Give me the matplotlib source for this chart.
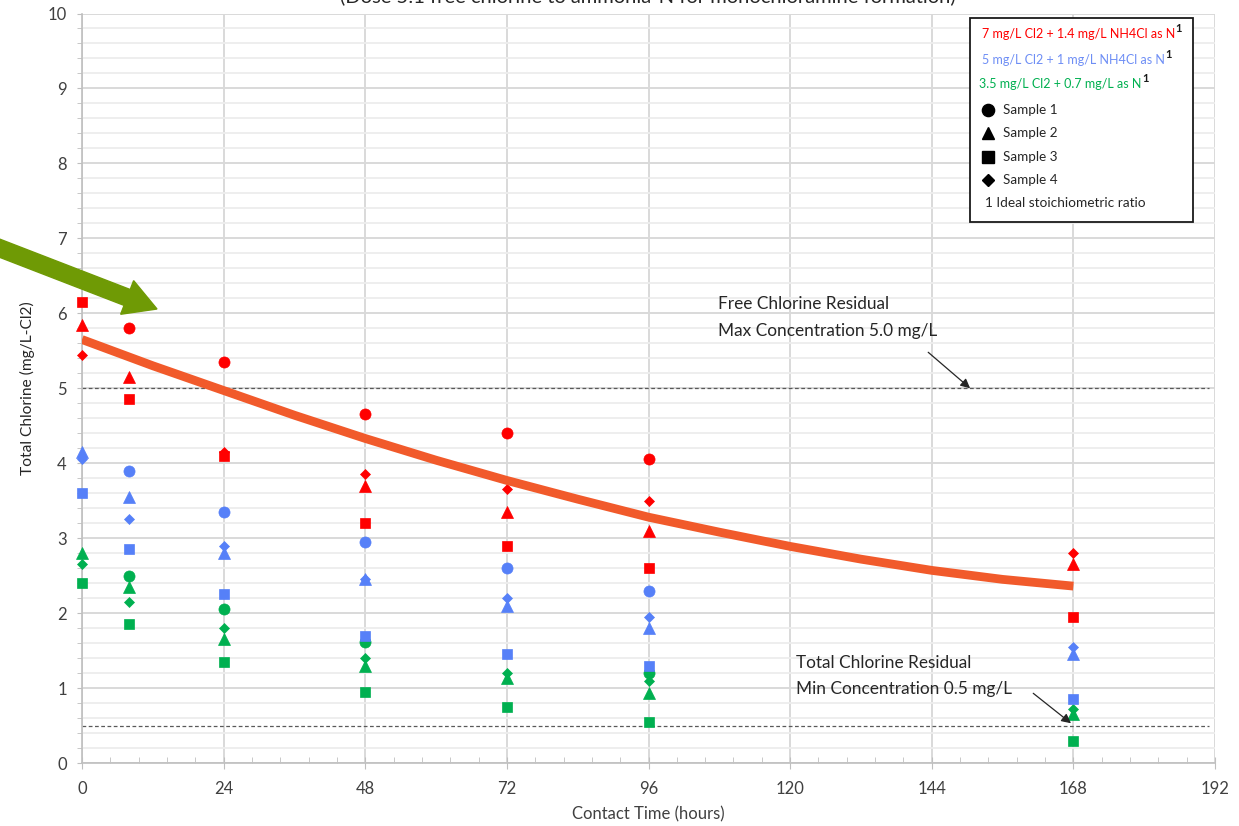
import numpy as np
import matplotlib
matplotlib.use("Agg")
import matplotlib.pyplot as plt
from matplotlib.ticker import MultipleLocator
import matplotlib.patches as mpatches
import matplotlib.transforms as mtransforms

nan = np.nan
W, H = 1239, 826

# ---------------- data ----------------
times = [0, 8, 24, 48, 72, 96, 168]

red_s1 = [nan, 5.80, 5.35, 4.65, 4.40, 4.05, nan]
red_s2 = [5.85, 5.15, nan, 3.70, 3.35, 3.10, 2.65]
red_s3 = [6.15, 4.85, 4.10, 3.20, 2.90, 2.60, 1.95]
red_s4 = [5.45, nan, 4.15, 3.85, 3.65, 3.50, 2.80]

blue_s1 = [nan, 3.90, 3.35, 2.95, 2.60, 2.30, nan]
blue_s2 = [4.15, 3.55, 2.80, 2.45, 2.10, 1.80, 1.45]
blue_s3 = [3.60, 2.85, 2.25, 1.70, 1.45, 1.30, 0.85]
blue_s4 = [4.05, 3.25, 2.90, 2.45, 2.20, 1.95, 1.55]

green_s1 = [nan, 2.50, 2.05, 1.62, nan, 1.20, nan]
green_s2 = [2.80, 2.35, 1.65, 1.30, 1.13, 0.93, 0.65]
green_s3 = [2.40, 1.85, 1.35, 0.95, 0.75, 0.55, 0.30]
green_s4 = [2.65, 2.15, 1.80, 1.40, 1.20, 1.10, 0.72]

trend_x = [0, 12, 24, 36, 48, 60, 72, 84, 96, 108, 120, 132, 144, 156, 168]
trend_y = [5.65, 5.30, 4.97, 4.64, 4.33, 4.04, 3.77, 3.52, 3.28, 3.08, 2.89, 2.72, 2.57, 2.45, 2.36]

max_free_cl = 5.0
min_total_cl = 0.5

legend_labels = ["7 mg/L Cl2 + 1.4 mg/L NH4Cl as N",
                 "5 mg/L Cl2 + 1 mg/L NH4Cl as N",
                 "3.5 mg/L Cl2 + 0.7 mg/L as N"]
sample_labels = ["Sample 1", "Sample 2", "Sample 3", "Sample 4"]

RED = "#FF0000"
BLUE = "#5680F8"
GREEN = "#00B050"
ORANGE = "#F15A2B"
ARROW_GREEN = "#6F9A05"

FONT = "Lato"
plt.rcParams['font.family'] = [FONT, 'DejaVu Sans']

fig = plt.figure(figsize=(W / 100, H / 100), dpi=100)
ax = fig.add_axes([82 / W, 1 - 763 / H, (1215 - 82) / W, (763 - 13.5) / H])

ax.set_xlim(0, 192)
ax.set_ylim(0, 10)
ax.xaxis.set_major_locator(MultipleLocator(24))
ax.xaxis.set_minor_locator(MultipleLocator(4.8))
ax.yaxis.set_major_locator(MultipleLocator(1))
ax.yaxis.set_minor_locator(MultipleLocator(0.2))

ax.grid(which='minor', axis='y', color='#EDEDED', lw=1.3, zorder=0)
ax.grid(which='major', axis='y', color='#D9D9D9', lw=1.4, zorder=0)
ax.grid(which='major', axis='x', color='#D9D9D9', lw=1.4, zorder=0)
ax.set_axisbelow(True)

for s in ['top', 'right']:
    ax.spines[s].set_visible(False)
for s in ['left', 'bottom']:
    ax.spines[s].set_color('#BFBFBF')
    ax.spines[s].set_linewidth(1.2)

ax.tick_params(axis='x', which='major', direction='inout', length=8, color='#BFBFBF',
               labelsize=12, labelcolor='#404040', pad=9)
ax.tick_params(axis='x', which='minor', direction='in', length=4, color='#BFBFBF')
ax.tick_params(axis='y', which='major', direction='out', length=3.5, color='#BFBFBF',
               labelsize=12, labelcolor='#404040', pad=7.5)
ax.tick_params(axis='y', which='minor', direction='out', length=3.5, color='#BFBFBF')

ax.set_xlabel("Contact Time (hours)", fontsize=12, color='#404040', labelpad=7)
ax.set_ylabel("Total Chlorine (mg/L-Cl2)", fontsize=11.2, color='#262626', labelpad=9)

# reference lines
ax.plot([0, 191], [max_free_cl, max_free_cl], ls=(0, (3, 2)), color='#595959', lw=0.9, zorder=2)
ax.plot([0, 191], [min_total_cl, min_total_cl], ls=(0, (3, 2)), color='#595959', lw=0.9, zorder=2)

markers = [('o', 8.0), ('^', 8.2), ('s', 7.6), ('D', 5.6)]
groups = [
    (GREEN, [green_s1, green_s2, green_s3, green_s4]),
    (BLUE, [blue_s1, blue_s2, blue_s3, blue_s4]),
    (RED, [red_s1, red_s2, red_s3, red_s4]),
]
for color, series in groups:
    for (m, ms), vals in zip(markers, series):
        ax.plot(times, vals, ls='none', marker=m, ms=ms, color=color, mec=color,
                mew=0.5, zorder=3, clip_on=False)

# trend curve
ax.plot(trend_x, trend_y, color=ORANGE, lw=6.3, solid_capstyle='butt', zorder=4)

# annotations
afs = 12.4
ax.text(107.8, 6.13, "Free Chlorine Residual", fontsize=afs, color='#262626', va='center', ha='left')
ax.text(107.8, 5.77, "Max Concentration 5.0 mg/L", fontsize=afs, color='#262626', va='center', ha='left')
ax.annotate("", xy=(150.5, max_free_cl), xytext=(143.4, 5.48),
            arrowprops=dict(arrowstyle='-|>', color='#262626', lw=0.9, mutation_scale=14,
                            shrinkA=0, shrinkB=0), zorder=5)
ax.text(121.0, 1.33, "Total Chlorine Residual", fontsize=afs, color='#262626', va='center', ha='left')
ax.text(121.0, 0.99, "Min Concentration 0.5 mg/L", fontsize=afs, color='#262626', va='center', ha='left')
ax.annotate("", xy=(167.6, min_total_cl + 0.03), xytext=(161.2, 0.93),
            arrowprops=dict(arrowstyle='-|>', color='#262626', lw=0.9, mutation_scale=14,
                            shrinkA=0, shrinkB=0), zorder=5)

# partially visible title at top (cut off by the top edge, as in the reference)
fig.text(648 / W, 1 + 4 / H, "(Dose 5:1 free chlorine to ammonia-N for monochloramine formation)",
         fontsize=14.5, ha='center', va='center', color='#262626')

# big green arrow (figure pixel coords, y from bottom)
ident = mtransforms.IdentityTransform()
tip = np.array([157.0, H - 309.0])
start = np.array([-6.0, H - 246.0])
d = tip - start
arr = mpatches.FancyArrow(start[0], start[1], d[0], d[1], width=17, head_width=36,
                          head_length=32, length_includes_head=True,
                          color=ARROW_GREEN, transform=ident)
fig.add_artist(arr)

# ---------------- legend box (figure pixels) ----------------
def fx(x):
    return x / W

def fy(y):
    return 1 - y / H

box = mpatches.Rectangle((fx(970), fy(222)), (1193 - 970) / W, (222 - 18) / H,
                         transform=fig.transFigure, facecolor='white', edgecolor='#1a1a1a',
                         lw=1.3, zorder=10)
fig.add_artist(box)

fig.canvas.draw()
renderer = fig.canvas.get_renderer()
leg_colors = [RED, "#6E8EF5", GREEN]
leg_y = [34, 60, 84]
leg_x = [982, 982, 979]
for lab, c, y, x in zip(legend_labels, leg_colors, leg_y, leg_x):
    t = fig.text(fx(x), fy(y), lab, fontsize=9.0, color=c, va='center', ha='left', zorder=11)
    bb = t.get_window_extent(renderer)
    fig.text(bb.x1 / W + 0.5 / W, fy(y - 6), "1", fontsize=8, fontweight='bold',
             color='#1a1a1a', va='center', ha='left', zorder=11)

samp_y = [110, 133, 157, 180]
for (m, ms), lab, y in zip(markers, sample_labels, samp_y):
    fig.add_artist(matplotlib.lines.Line2D([fx(988)], [fy(y)], transform=fig.transFigure,
                                           marker=m, ms=ms * 1.1, color='black', ls='none',
                                           zorder=11))
    fig.text(fx(1003), fy(y), lab, fontsize=9.7, color='#262626', va='center', ha='left', zorder=11)

fig.text(fx(985), fy(203), "1 Ideal stoichiometric ratio", fontsize=9.8, color='#262626',
         va='center', ha='left', zorder=11)

fig.savefig("out.png", dpi=100)
